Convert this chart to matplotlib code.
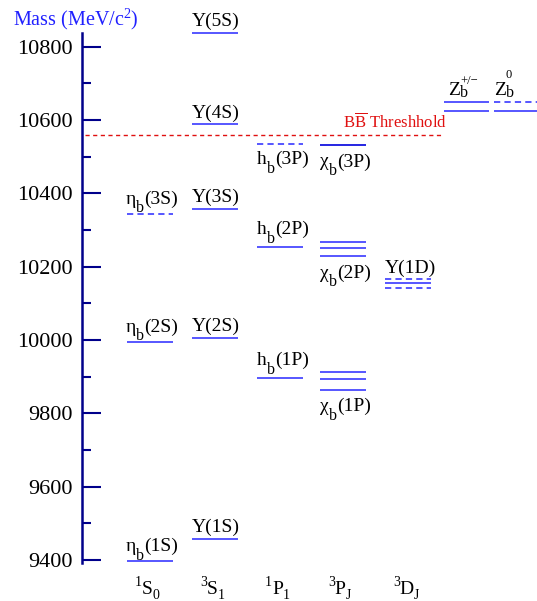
import matplotlib
matplotlib.use("Agg")
import matplotlib.pyplot as plt

plt.rcParams['font.family'] = 'Liberation Serif'
plt.rcParams['mathtext.fontset'] = 'custom'
plt.rcParams['mathtext.rm'] = 'Liberation Serif'
plt.rcParams['mathtext.it'] = 'Liberation Serif:italic'
plt.rcParams['lines.scale_dashes'] = False

# bottomonium levels (MeV/c^2)
column_labels = [("1", "S", "0"), ("3", "S", "1"), ("1", "P", "1"), ("3", "P", "J"), ("3", "D", "J")]

eta_b_mass = [9397, 9995, 10345]
eta_b_dashed = [False, False, True]
eta_b_names = ["1S", "2S", "3S"]

ups_mass = [9457, 10005, 10357, 10588, 10838]
ups_names = ["Υ(1S)", "Υ(2S)", "Υ(3S)", "Υ(4S)", "Υ(5S)"]

h_b_mass = [9897, 10254, 10534]
h_b_dashed = [False, False, True]
h_b_names = ["1P", "2P", "3P"]

chi_b_mass = [[9864, 9893, 9912], [10229, 10252, 10266], [10532]]
chi_b_names = ["1P", "2P", "3P"]

ups1d_mass = [10143, 10156, 10167]
ups1d_dashed = [True, False, True]

zb_pm_mass = [10625, 10650]
zb_pm_dashed = [False, False]
zb0_mass = [10625, 10650]
zb0_dashed = [False, True]

threshold = 10558
major_ticks = [9400, 9600, 9800, 10000, 10200, 10400, 10600, 10800]
minor_ticks = [9500, 9700, 9900, 10100, 10300, 10500, 10700]
axis_range = [9392, 10838]

LINE = '#3a3aff'
NAVY = '#00008b'
RED = '#e01010'

fig = plt.figure(figsize=(5.37, 6.01), dpi=100)
ax = fig.add_axes([0, 0, 1, 1])
ax.set_xlim(0, 537)
ax.set_ylim(9288.2, 10927.3)
ax.patch.set_alpha(0)
renderer = fig.canvas.get_renderer()

# mass axis
for s in ['top', 'right', 'bottom']:
    ax.spines[s].set_visible(False)
ax.spines['left'].set_position(('data', 82))
ax.spines['left'].set_bounds(*axis_range)
ax.spines['left'].set_color(NAVY)
ax.spines['left'].set_linewidth(1.8)
ax.set_xticks([])
ax.set_yticks(major_ticks)
ax.set_yticks(minor_ticks, minor=True)
ax.tick_params(axis='y', which='major', direction='in', length=13.5, width=1.5,
               color=NAVY, labelsize=16, pad=7)
ax.tick_params(axis='y', which='minor', direction='in', length=6.5, width=1.5, color=NAVY)

col_x = [150, 215, 280, 343, 408]
hw = 23
zb_x = [466.5, 515.5]


def level(xc, m, dashed=False, color=LINE, half=hw):
    ls = (0, (4.5, 3)) if dashed else '-'
    ax.plot([xc - half, xc + half], [m, m], color=color, lw=1.2, ls=ls, solid_capstyle='butt')


def pieces(x, m, parts, dy0, color='k'):
    # parts: (text, size, dy, advance) drawn one after another, ROOT-style sub/superscripts
    xo = 0
    for s, size, dy, adv in parts:
        t = ax.annotate(s, (x, m), xytext=(xo, dy0 + dy), textcoords='offset points',
                        ha='left', va='baseline', fontsize=size, color=color)
        if adv:
            xo += t.get_window_extent(renderer).width * 72 / fig.dpi


def sub_label(x, m, head, tail, dy0):
    pieces(x, m, [(head, 14, 0, True), ("b", 11.5, -6, True), ("(" + tail + ")", 14, 0, True)], dy0)


# 1S0
for m, d, n in zip(eta_b_mass, eta_b_dashed, eta_b_names):
    level(col_x[0], m, d)
    sub_label(col_x[0] - hw - 1, m, "η", n, 7)

# 3S1
for m, n in zip(ups_mass, ups_names):
    level(col_x[1], m)
    ax.annotate(n, (col_x[1] - hw, m), xytext=(0, 5), textcoords='offset points',
                ha='left', va='baseline', fontsize=14)

# 1P1
for m, d, n in zip(h_b_mass, h_b_dashed, h_b_names):
    level(col_x[2], m, d)
    sub_label(col_x[2] - hw, m, "h", n, -14.5 if d else 9)

# 3PJ
for ms, n in zip(chi_b_mass, chi_b_names):
    c = '#0000dd' if len(ms) == 1 else LINE
    for m in ms:
        level(col_x[3], m, color=c)
    sub_label(col_x[3] - hw, min(ms), "χ", n, -15.5)

# 3DJ
for m, d in zip(ups1d_mass, ups1d_dashed):
    level(col_x[4], m, d)
ax.annotate("Υ(1D)", (col_x[4] - hw, max(ups1d_mass)), xytext=(0, 4.5), textcoords='offset points',
            ha='left', va='baseline', fontsize=14)

# Z_b states
for m, d in zip(zb_pm_mass, zb_pm_dashed):
    level(zb_x[0], m, d, half=22.5)
for m, d in zip(zb0_mass, zb0_dashed):
    level(zb_x[1], m, d, half=22)
pieces(zb_x[0] - 18.5, max(zb_pm_mass), [("Z", 14, 0, True), ("+/−", 9, 7.5, False), ("b", 11.5, -1.5, True)], 5)
pieces(zb_x[1] - 21.5, max(zb0_mass), [("Z", 14, 0, True), ("0", 9, 12, False), ("b", 11.5, -1.5, True)], 5)

# BB threshold
ax.plot([85, 443], [threshold, threshold], color=RED, lw=1, ls=(0, (3, 2.5)))
ax.annotate("B$\\overline{\\mathrm{B}}$ Threshhold", (343, threshold), xytext=(0, 5),
            textcoords='offset points', ha='left', va='baseline', fontsize=12, color=RED)

# column labels and axis title
for xc, (sup, letter, sub) in zip(col_x, column_labels):
    pieces(xc - 15, 9307, [(sup, 10, 5.5, True), (letter, 14, 0, True), (sub, 10, -3.5, True)], 0)
ax.text(13, 10859, "Mass (MeV/c$^{2}$)", ha='left', va='baseline', fontsize=14.5, color='#2020ff')

fig.savefig("out.png", dpi=100)
